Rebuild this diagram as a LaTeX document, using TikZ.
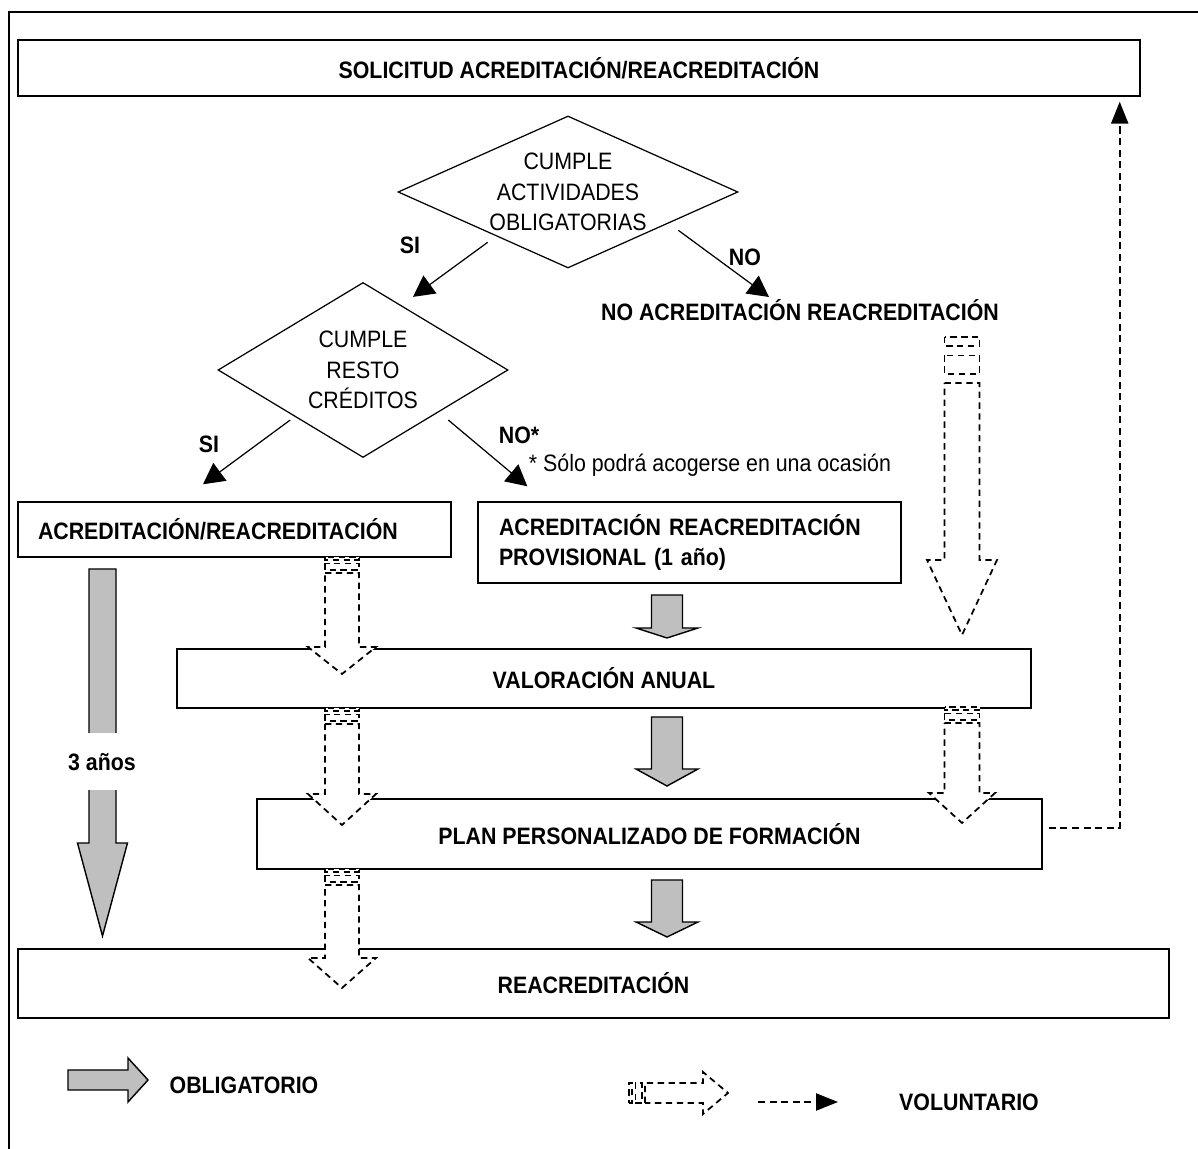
\documentclass[tikz,border=0pt]{standalone}
\usepackage{fontspec}
\setmainfont{Liberation Sans}[FakeStretch=0.9]
\usetikzlibrary{shapes.geometric,arrows.meta}
\newcommand{\lblfont}{\fontsize{13.5}{17.5}\selectfont}
% grey block arrow, drawn downwards from (0,0)
\newcommand{\obarrow}[4]{%
  \draw[line width=0.8pt, fill=black!25] (-#1,0) -- (#1,0) -- (#1,-#3) -- (#2,-#3) -- (0,-#4) -- (-#2,-#3) -- (-#1,-#3) -- cycle;}
% dashed striped block arrow, drawn downwards from (0,0)
\newcommand{\volarrow}[5]{%
  \draw[volbox] (-#1,0) rectangle (#1,-#5);
  \draw[volbox] (-#1,-2*#5) rectangle (#1,-4*#5);
  \draw[volbox] (-#1,-5*#5) -- (#1,-5*#5) -- (#1,-#3) -- (#2,-#3) -- (0,-#4) -- (-#2,-#3) -- (-#1,-#3) -- cycle;}
\tikzset{
  box/.style={draw, line width=0.8pt, inner sep=0pt, font=\lblfont\bfseries},
  dec/.style={diamond, draw, line width=0.7pt, inner sep=0pt, align=center, font=\lblfont},
  lbl/.style={font=\lblfont\bfseries, inner sep=1pt},
  decarrow/.style={line width=0.7pt, -{Triangle[length=0.42cm,width=0.44cm]}},
  volbox/.style={line width=1pt, dash pattern=on 3.6pt off 2.6pt, fill=white},
  volline/.style={line width=1.3pt, dash pattern=on 4pt off 2.6pt, -{Triangle[length=0.44cm,width=0.34cm]}}
}
\begin{document}
\begin{tikzpicture}
			\useasboundingbox (0,0) rectangle (23.96,22.98);
			\draw[line width=0.8pt] (0.18,0) -- (0.18,22.74) -- (23.96,22.74);
			% boxes and decisions
			\node[box, minimum width=22.44cm, minimum height=1.12cm] (sol) at (11.58,21.62) {SOLICITUD ACREDITACIÓN/REACREDITACIÓN};
			\node[dec, aspect=2.24, minimum width=6.8cm, minimum height=3.04cm] (d1) at (11.36,19.14) {CUMPLE\\ACTIVIDADES\\OBLIGATORIAS};
			\node[dec, aspect=1.66, minimum width=5.8cm, minimum height=3.5cm] (d2) at (7.26,15.58) {CUMPLE\\RESTO\\CRÉDITOS};
			\node[lbl] (noacr) at (16.0,16.78) {NO ACREDITACIÓN REACREDITACIÓN};
			\node[box, minimum width=8.66cm, minimum height=1.1cm, text width=7.86cm, align=left] (acr) at (4.69,12.39) {ACREDITACIÓN/REACREDITACIÓN};
			\node[box, minimum width=8.46cm, minimum height=1.62cm, text width=7.62cm, align=left] (prov) at (13.79,12.13) {ACREDITACIÓN REACREDITACIÓN\\PROVISIONAL (1 año)};
			\node[box, minimum width=17.08cm, minimum height=1.18cm] (val) at (12.08,9.41) {VALORACIÓN ANUAL};
			\node[box, minimum width=15.7cm, minimum height=1.4cm] (plan) at (12.99,6.3) {PLAN PERSONALIZADO DE FORMACIÓN};
			\node[box, minimum width=23.02cm, minimum height=1.38cm] (reacr) at (11.87,3.31) {REACREDITACIÓN};
			% decisions
			\node[lbl] (si1) at (8.2,18.08) {SI};
			\node[lbl] (no1) at (14.9,17.84) {NO};
			\node[lbl] (si2) at (4.18,14.1) {SI};
			\node[lbl] (no2) at (10.38,14.28) {NO*};
			\node[font=\lblfont, inner sep=1pt] (nota) at (14.2,13.68) {* Sólo podrá acogerse en una ocasión};
			\draw[decarrow] ([shift={(0.1,-0.24)}]d1.south west) -- ([shift={(1.0,-0.3)}]d2.north);
			\draw[decarrow] ([shift={(0.5,0)}]d1.south east) -- ([shift={(-0.62,0.26)}]noacr.center);
			\draw[decarrow] ([yshift=-0.12cm]d2.south west) -- ([shift={(-0.63,0.34)}]acr.north);
			\draw[decarrow] ([shift={(0.25,-0.12)}]d2.south east) -- ([shift={(1.0,0.3)}]prov.north west);
			% obligatorio
			\begin{scope}[shift={(2.05,11.6)}] \obarrow{0.27}{0.5}{5.48}{7.34} \end{scope}
			\node[lbl, fill=white, minimum height=1.14cm] (anos) at (2.04,7.74) {3 años};
			\begin{scope}[shift={(13.34,11.08)}] \obarrow{0.31}{0.62}{0.66}{0.86} \end{scope}
			\begin{scope}[shift={(13.34,8.64)}] \obarrow{0.31}{0.62}{1.04}{1.38} \end{scope}
			\begin{scope}[shift={(13.34,5.38)}] \obarrow{0.31}{0.62}{0.84}{1.14} \end{scope}
			% voluntario
			\begin{scope}[shift={(6.84,11.84)}] \volarrow{0.34}{0.68}{1.8}{2.34}{0.064} \end{scope}
			\begin{scope}[shift={(6.84,8.82)}] \volarrow{0.34}{0.68}{1.72}{2.34}{0.064} \end{scope}
			\begin{scope}[shift={(6.84,5.6)}] \volarrow{0.34}{0.68}{1.78}{2.38}{0.064} \end{scope}
			\begin{scope}[shift={(19.24,16.24)}] \volarrow{0.35}{0.7}{4.46}{5.96}{0.184} \end{scope}
			\begin{scope}[shift={(19.24,8.84)}] \volarrow{0.35}{0.66}{1.72}{2.32}{0.064} \end{scope}
			\draw[volline] ([shift={(0.12,0.12)}]plan.east) -| ([shift={(-0.42,-0.1)}]sol.south east);
			% legend
			\begin{scope}[shift={(1.36,1.38)}, rotate=90] \obarrow{0.2}{0.44}{1.2}{1.6} \end{scope}
			\node[lbl] (obl) at (4.88,1.28) {OBLIGATORIO};
			\begin{scope}[shift={(12.58,1.12)}, rotate=90] \volarrow{0.2}{0.42}{1.48}{1.98}{0.064} \end{scope}
			\coordinate (lva) at (15.16,0.94);
			\coordinate (lvb) at (16.76,0.94);
			\draw[volline] (lva) -- (lvb);
			\node[lbl] (vol) at (19.38,0.94) {VOLUNTARIO};
		\end{tikzpicture}
\end{document}
